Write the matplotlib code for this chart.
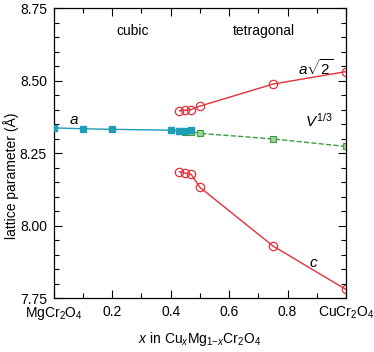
import matplotlib
matplotlib.use("Agg")
import matplotlib.pyplot as plt
from matplotlib.ticker import MultipleLocator

plt.rcParams['font.family'] = ['Liberation Sans', 'DejaVu Sans']
plt.rcParams['mathtext.fontset'] = 'custom'
plt.rcParams['mathtext.rm'] = 'Liberation Sans'
plt.rcParams['mathtext.it'] = 'Liberation Sans:italic'

# cubic phase
x_cubic = [0.0, 0.1, 0.2, 0.4, 0.43, 0.45, 0.47]
a_cubic = [8.337, 8.334, 8.332, 8.329, 8.327, 8.327, 8.328]

# tetragonal phase
x_tet = [0.43, 0.45, 0.47, 0.5, 0.75, 1.0]
a_sqrt2 = [8.396, 8.398, 8.400, 8.412, 8.488, 8.531]
c_tet = [8.186, 8.181, 8.177, 8.132, 7.930, 7.780]
v13 = [8.325, 8.324, 8.324, 8.318, 8.299, 8.273]

xtick_vals = [0.0, 0.2, 0.4, 0.6, 0.8, 1.0]
xtick_labels = ['MgCr$_2$O$_4$', '0.2', '0.4', '0.6', '0.8', 'CuCr$_2$O$_4$']
ytick_vals = [7.75, 8.00, 8.25, 8.50, 8.75]

red = '#e0313b'
green = '#3d9c3d'
cyan = '#1d9db8'

fig = plt.figure(figsize=(3.74, 3.52), dpi=100)
ax = fig.add_axes([0.144, 0.153, 0.781, 0.824])

ax.plot(x_tet, v13, ls='--', color=green, lw=1, marker='s', ms=4.5,
        mfc='#9fd09f', mec=green, mew=0.8, zorder=2)
ax.plot(x_cubic, a_cubic, ls='-', color=cyan, lw=1, marker='s', ms=4.5,
        mfc=cyan, mec=cyan, zorder=3)
ax.plot(x_tet, a_sqrt2, ls='-', color=red, lw=1, marker='o', ms=6,
        mfc='none', mec=red, mew=0.9, zorder=2)
ax.plot(x_tet, c_tet, ls='-', color=red, lw=1, marker='o', ms=6,
        mfc='none', mec=red, mew=0.9, zorder=2)

ax.set_xlim(0, 1)
ax.set_ylim(7.75, 8.75)
ax.set_xticks(xtick_vals)
ax.set_xticklabels(xtick_labels)
ax.set_yticks(ytick_vals)
ax.set_yticklabels(['%.2f' % v for v in ytick_vals])
ax.xaxis.set_minor_locator(MultipleLocator(0.1))
ax.yaxis.set_minor_locator(MultipleLocator(0.05))
ax.tick_params(which='both', direction='in', top=True, right=True, labelsize=10, width=0.8)
ax.tick_params(which='major', length=6, pad=5)
ax.tick_params(which='minor', length=3.5)
for s in ax.spines.values():
    s.set_linewidth(0.9)

ax.text(0.27, 8.67, 'cubic', ha='center', va='center', fontsize=10)
ax.text(0.72, 8.67, 'tetragonal', ha='center', va='center', fontsize=10)
ax.text(0.07, 8.365, '$a$', ha='center', va='center', fontsize=11)
ax.text(0.895, 8.545, r'$a\sqrt{2}$', ha='center', va='center', fontsize=11)
ax.text(0.905, 8.36, '$V^{1/3}$', ha='center', va='center', fontsize=11)
ax.text(0.89, 7.87, '$c$', ha='center', va='center', fontsize=11)

ax.set_xlabel('$x$ in Cu$_x$Mg$_{1\\mathrm{-}x}$Cr$_2$O$_4$', fontsize=10, labelpad=6)
fig.text(11 / 374, 0.5, 'lattice parameter (Å)', rotation=90, ha='center', va='center', fontsize=10)

fig.savefig('out.png', dpi=100)
